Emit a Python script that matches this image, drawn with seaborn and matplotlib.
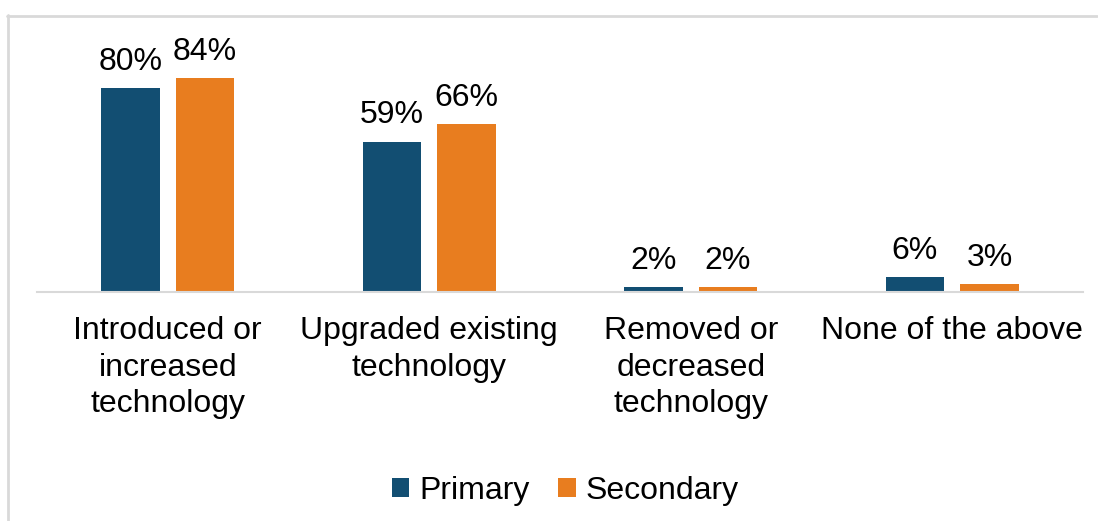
import matplotlib
matplotlib.use("Agg")
import matplotlib.pyplot as plt
from matplotlib.lines import Line2D
import seaborn as sns
import pandas as pd

categories = [
    "Introduced or\nincreased\ntechnology",
    "Upgraded existing\ntechnology",
    "Removed or\ndecreased\ntechnology",
    "None of the above",
]
primary = [80, 59, 2, 6]
secondary = [84, 66, 2, 3]
series = ["Primary", "Secondary"]
colors = ["#124E72", "#E87D1F"]

df = pd.DataFrame({
    "category": categories * 2,
    "phase": [series[0]] * 4 + [series[1]] * 4,
    "value": primary + secondary,
})

sns.set_theme(style="white")
plt.rcParams["font.family"] = ["Liberation Sans", "DejaVu Sans"]

W, H = 1098, 521
fig = plt.figure(figsize=(W / 100, H / 100), dpi=100)
ax = fig.add_axes([37 / W, (H - 292) / H, (1083 - 37) / W, (292 - 37) / H])

sns.barplot(
    data=df, x="category", y="value", hue="phase",
    palette=colors, width=0.57, gap=0.21, ax=ax,
    saturation=1, edgecolor="none", linewidth=0,
)

for cont in ax.containers:
    ax.bar_label(cont, labels=[f"{v:.0f}%" for v in cont.datavalues],
                 padding=8, fontsize=23, color="black")

ax.set_ylim(0, 100)
ax.set_xlim(-0.5, 3.5)
ax.set_xlabel("")
ax.set_ylabel("")
ax.set_yticks([])
for side in ["top", "right", "left"]:
    ax.spines[side].set_visible(False)
ax.spines["bottom"].set_color("#D9D9D9")
ax.spines["bottom"].set_linewidth(1.5)
ax.tick_params(axis="x", length=0, pad=17, labelsize=23, labelcolor="black")
for t in ax.get_xticklabels():
    t.set_linespacing(1.3)

handles, labels = ax.get_legend_handles_labels()
ax.legend_.remove()
fig.legend(handles, labels, loc="center", bbox_to_anchor=(565 / W, 1 - 491 / H),
           ncol=2, frameon=False, fontsize=23, handlelength=0.55, handleheight=0.55,
           handletextpad=0.3, columnspacing=0.9, labelcolor="black")

# light frame along the top and left edges
fig.add_artist(Line2D([7.5 / W, 7.5 / W], [0, 1 - 15 / H], color="#D9D9D9", lw=2,
                      transform=fig.transFigure))
fig.add_artist(Line2D([7 / W, 1097 / W], [1 - 15.5 / H, 1 - 15.5 / H], color="#D9D9D9",
                      lw=2, transform=fig.transFigure))

fig.savefig("out.png", dpi=100)
